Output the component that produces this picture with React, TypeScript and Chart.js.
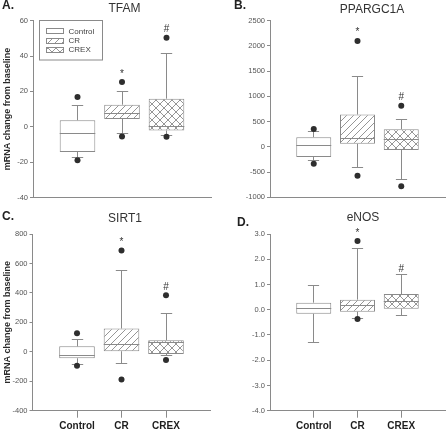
import React, { useEffect, useRef } from 'react';
import { Chart, registerables } from 'chart.js';

Chart.register(...registerables);

// ---------- data ----------
const groups = ['Control', 'CR', 'CREX'];
const groupPositions = [1, 2, 3];
const significance = ['', '*', '#'];

// A. TFAM
const tfamLow = [-17.2, -3.7, -5.2];
const tfamQ1 = [-14.2, 4.4, -2.1];
const tfamMedian = [-3.7, 7.5, 0.3];
const tfamQ3 = [3.7, 12.5, 15.9];
const tfamHigh = [12.2, 19.7, 41.2];
const tfamOutliers = [[16.9, -18.9], [25.3, -5.5], [50.4, -5.7]];
const tfamTicks = [-40, -20, 0, 20, 40, 60];

// B. PPARGC1A
const pgcLow = [-265, -400, -655];
const pgcQ1 = [-200, 60, -63];
const pgcMedian = [25, 162, 155];
const pgcQ3 = [192, 640, 350];
const pgcHigh = [300, 1395, 535];
const pgcOutliers = [[355, -335], [2100, -575], [815, -780]];
const pgcTicks = [-1000, -500, 0, 500, 1000, 1500, 2000, 2500];

// C. SIRT1
const sirtLow = [-86, -80, -25];
const sirtQ1 = [-44, 4, -15];
const sirtMedian = [-22, 51, 60];
const sirtQ3 = [37, 158, 78];
const sirtHigh = [85, 555, 258];
const sirtOutliers = [[126, -95], [688, -188], [384, -55]];
const sirtTicks = [-400, -200, 0, 200, 400, 600, 800];

// D. eNOS
const enosLow = [-1.31, -0.36, -0.21];
const enosQ1 = [-0.16, -0.08, 0.04];
const enosMedian = [0.04, 0.15, 0.33];
const enosQ3 = [0.28, 0.4, 0.62];
const enosHigh = [0.96, 2.42, 1.38];
const enosOutliers: number[][] = [[], [2.72, -0.37], []];
const enosTicks = [-4, -3, -2, -1, 0, 1, 2, 3];

// ---------- style ----------
const W = 448;
const H = 431;
const FONT = "'Liberation Sans', Arial, Helvetica, sans-serif";
const LINE = '#8a8a8a';
const DOT = '#2e2e2e';
const TICK_TEXT = '#555555';
const TEXT = '#333333';

type PanelCfg = {
  letter: string;
  title: string;
  low: number[];
  q1: number[];
  median: number[];
  q3: number[];
  high: number[];
  outliers: number[][];
  ticks: number[];
  decimals: number;
  area: { l: number; t: number; r: number; b: number };
  padLeft: number;
  xH: number;
  letterPos: [number, number];
  titlePos: [number, number];
  yTitle: boolean;
  xLabels: boolean;
  legend: boolean;
};

const panels: PanelCfg[] = [
  {
    letter: 'A.', title: 'TFAM',
    low: tfamLow, q1: tfamQ1, median: tfamMedian, q3: tfamQ3, high: tfamHigh, outliers: tfamOutliers,
    ticks: tfamTicks, decimals: 0,
    area: { l: 33, t: 20.7, r: 211, b: 197.5 }, padLeft: 0, xH: 10,
    letterPos: [2, 6], titlePos: [124.5, 8.5], yTitle: true, xLabels: false, legend: true,
  },
  {
    letter: 'B.', title: 'PPARGC1A',
    low: pgcLow, q1: pgcQ1, median: pgcMedian, q3: pgcQ3, high: pgcHigh, outliers: pgcOutliers,
    ticks: pgcTicks, decimals: 0,
    area: { l: 270, t: 20.7, r: 448, b: 197.3 }, padLeft: 224, xH: 10,
    letterPos: [234, 5.5], titlePos: [372, 10], yTitle: false, xLabels: false, legend: false,
  },
  {
    letter: 'C.', title: 'SIRT1',
    low: sirtLow, q1: sirtQ1, median: sirtMedian, q3: sirtQ3, high: sirtHigh, outliers: sirtOutliers,
    ticks: sirtTicks, decimals: 0,
    area: { l: 32.5, t: 234, r: 210.5, b: 410.7 }, padLeft: 0, xH: 20,
    letterPos: [2, 216.5], titlePos: [125, 219], yTitle: true, xLabels: true, legend: false,
  },
  {
    letter: 'D.', title: 'eNOS',
    low: enosLow, q1: enosQ1, median: enosMedian, q3: enosQ3, high: enosHigh, outliers: enosOutliers,
    ticks: enosTicks, decimals: 1,
    area: { l: 270, t: 234, r: 448, b: 410.7 }, padLeft: 224, xH: 20,
    letterPos: [237, 222.5], titlePos: [363, 217.5], yTitle: false, xLabels: true, legend: false,
  },
];

function makePattern(ctx: CanvasRenderingContext2D, kind: 'none' | 'diag' | 'cross'): CanvasPattern | string {
  if (kind === 'none') return '#ffffff';
  const size = kind === 'diag' ? 7 : 8;
  const c = document.createElement('canvas');
  c.width = size;
  c.height = size;
  const g = c.getContext('2d')!;
  g.fillStyle = '#ffffff';
  g.fillRect(0, 0, size, size);
  g.strokeStyle = LINE;
  g.lineWidth = 0.9;
  g.beginPath();
  // "/" direction
  g.moveTo(-1, size + 1); g.lineTo(size + 1, -1);
  g.moveTo(-1, 1); g.lineTo(1, -1);
  g.moveTo(size - 1, size + 1); g.lineTo(size + 1, size - 1);
  if (kind === 'cross') {
    // "\" direction
    g.moveTo(-1, -1); g.lineTo(size + 1, size + 1);
    g.moveTo(size - 1, -1); g.lineTo(size + 1, 1);
    g.moveTo(-1, size - 1); g.lineTo(1, size + 1);
  }
  g.stroke();
  return ctx.createPattern(c, 'repeat')!;
}

const crisp = (v: number) => Math.round(v - 0.5) + 0.5;

function Panel({ cfg }: { cfg: PanelCfg }) {
  const ref = useRef<HTMLCanvasElement>(null);

  useEffect(() => {
    const canvas = ref.current!;
    const ctx = canvas.getContext('2d')!;
    const fills = [makePattern(ctx, 'none'), makePattern(ctx, 'diag'), makePattern(ctx, 'cross')];

    const outlierPoints: { x: number; y: number }[] = [];
    cfg.outliers.forEach((list, i) => list.forEach((v) => outlierPoints.push({ x: groupPositions[i], y: v })));

    const yMin = cfg.ticks[0];
    const yMax = cfg.ticks[cfg.ticks.length - 1];
    const yW = cfg.area.l - cfg.padLeft;

    const plugin = {
      id: 'boxExtras',
      beforeDatasetsDraw(chart: any) {
        const c = chart.ctx as CanvasRenderingContext2D;
        const xs = chart.scales.x;
        const ys = chart.scales.y;
        const bars = chart.getDatasetMeta(1).data;
        c.save();
        c.strokeStyle = LINE;
        c.lineWidth = 1;
        groupPositions.forEach((gx, i) => {
          const px = crisp(xs.getPixelForValue(gx));
          const bw = bars[i].width;
          const capHalf = bw * 0.16;
          const yq1 = ys.getPixelForValue(cfg.q1[i]);
          const yq3 = ys.getPixelForValue(cfg.q3[i]);
          const yLo = crisp(ys.getPixelForValue(cfg.low[i]));
          const yHi = crisp(ys.getPixelForValue(cfg.high[i]));
          c.beginPath();
          c.moveTo(px, yq3); c.lineTo(px, yHi);
          c.moveTo(px - capHalf, yHi); c.lineTo(px + capHalf, yHi);
          c.moveTo(px, yq1); c.lineTo(px, yLo);
          c.moveTo(px - capHalf, yLo); c.lineTo(px + capHalf, yLo);
          c.stroke();
        });
        c.restore();
      },
      afterDatasetsDraw(chart: any) {
        const c = chart.ctx as CanvasRenderingContext2D;
        const xs = chart.scales.x;
        const ys = chart.scales.y;
        const bars = chart.getDatasetMeta(1).data;
        c.save();
        c.strokeStyle = LINE;
        c.lineWidth = 1;
        groupPositions.forEach((gx, i) => {
          const bar = bars[i];
          const ym = crisp(ys.getPixelForValue(cfg.median[i]));
          c.beginPath();
          c.moveTo(bar.x - bar.width / 2, ym);
          c.lineTo(bar.x + bar.width / 2, ym);
          c.stroke();
          // significance markers
          const mark = significance[i];
          if (mark) {
            let top = ys.getPixelForValue(cfg.high[i]);
            cfg.outliers[i].forEach((o) => {
              if (o > cfg.high[i]) top = Math.min(top, ys.getPixelForValue(o) - 3);
            });
            c.fillStyle = TEXT;
            c.font = `10px ${FONT}`;
            c.textAlign = 'center';
            c.textBaseline = 'alphabetic';
            c.fillText(mark, xs.getPixelForValue(gx), top - 2.5);
          }
        });
        c.restore();
      },
      afterDraw(chart: any) {
        const c = chart.ctx as CanvasRenderingContext2D;
        const area = chart.chartArea;
        c.save();
        // panel letter
        c.fillStyle = '#222222';
        c.font = `bold 12px ${FONT}`;
        c.textAlign = 'left';
        c.textBaseline = 'middle';
        c.fillText(cfg.letter, cfg.letterPos[0], cfg.letterPos[1]);
        // title
        c.fillStyle = TEXT;
        c.font = `12px ${FONT}`;
        c.textAlign = 'center';
        c.fillText(cfg.title, cfg.titlePos[0], cfg.titlePos[1]);
        // y title
        if (cfg.yTitle) {
          c.save();
          c.translate(7.5, (area.top + area.bottom) / 2);
          c.rotate(-Math.PI / 2);
          c.font = `bold 9px ${FONT}`;
          c.fillStyle = '#2a2a2a';
          c.textAlign = 'center';
          c.textBaseline = 'middle';
          c.fillText('mRNA change from baseline', 0, 0);
          c.restore();
        }
        // legend
        if (cfg.legend) {
          const lx = area.left + 6.5;
          const ly = area.top - 0.2;
          c.strokeStyle = LINE;
          c.lineWidth = 1;
          c.strokeRect(crisp(lx), crisp(ly), 63, 39.5);
          groups.forEach((name, i) => {
            const sy = ly + 8.3 + i * 9.3;
            const sx = lx + 6.5;
            c.fillStyle = fills[i] as any;
            c.fillRect(sx, sy, 17.5, 5);
            c.strokeStyle = LINE;
            c.strokeRect(crisp(sx), crisp(sy), 17, 5);
            c.fillStyle = '#444444';
            c.font = `8px ${FONT}`;
            c.textAlign = 'left';
            c.textBaseline = 'middle';
            c.fillText(name, sx + 22.5, sy + 2.7);
          });
        }
        c.restore();
      },
    };

    const chart = new Chart(canvas, {
      type: 'bar',
      data: {
        datasets: [
          {
            type: 'scatter',
            data: outlierPoints,
            pointRadius: 3,
            pointHoverRadius: 3,
            pointBackgroundColor: DOT,
            pointBorderColor: DOT,
            pointBorderWidth: 0,
          } as any,
          {
            type: 'bar',
            data: groupPositions.map((x, i) => ({ x, y: [cfg.q1[i], cfg.q3[i]] })),
            backgroundColor: fills as any,
            borderColor: LINE,
            borderWidth: 1,
            borderSkipped: false,
            categoryPercentage: 1,
            barPercentage: 0.8,
          } as any,
        ],
      },
      options: {
        responsive: false,
        maintainAspectRatio: false,
        animation: false,
        events: [],
        layout: {
          padding: {
            left: cfg.padLeft,
            top: cfg.area.t,
            right: W - cfg.area.r,
            bottom: H - cfg.area.b - cfg.xH,
          },
        },
        plugins: {
          legend: { display: false },
          tooltip: { enabled: false },
          title: { display: false },
        },
        scales: {
          x: {
            type: 'linear',
            min: 0,
            max: 4,
            offset: false,
            afterBuildTicks: (s: any) => {
              s.ticks = groupPositions.map((v) => ({ value: v }));
            },
            afterFit: (s: any) => {
              s.height = cfg.xH;
            },
            grid: {
              display: cfg.xLabels,
              offset: false,
              drawOnChartArea: false,
              drawTicks: true,
              tickLength: 7,
              color: LINE,
            },
            border: { display: true, color: LINE, width: 1 },
            ticks: {
              display: cfg.xLabels,
              padding: 3,
              color: '#1e1e1e',
              font: { family: FONT, size: 10, weight: 'bold' },
              callback: (v: any) => groups[groupPositions.indexOf(Number(v))] ?? '',
              autoSkip: false,
              maxRotation: 0,
            },
          } as any,
          y: {
            type: 'linear',
            min: yMin,
            max: yMax,
            afterBuildTicks: (s: any) => {
              s.ticks = cfg.ticks.map((v) => ({ value: v }));
            },
            afterFit: (s: any) => {
              s.width = yW;
            },
            grid: {
              display: true,
              drawOnChartArea: false,
              drawTicks: true,
              tickLength: 3,
              color: LINE,
            },
            border: { display: true, color: LINE, width: 1 },
            ticks: {
              padding: 2,
              color: TICK_TEXT,
              font: { family: FONT, size: 7.5 },
              callback: (v: any) => Number(v).toFixed(cfg.decimals),
            },
          } as any,
        },
      },
      plugins: [plugin as any],
    });

    return () => chart.destroy();
  }, [cfg]);

  return (
    <canvas
      ref={ref}
      width={W}
      height={H}
      style={{ position: 'absolute', left: 0, top: 0, width: W, height: H }}
    />
  );
}

export default function App() {
  return (
    <div
      style={{
        position: 'absolute',
        left: 0,
        top: 0,
        width: W,
        height: H,
        background: '#ffffff',
        overflow: 'hidden',
      }}
    >
      {panels.map((p) => (
        <Panel key={p.letter} cfg={p} />
      ))}
    </div>
  );
}
